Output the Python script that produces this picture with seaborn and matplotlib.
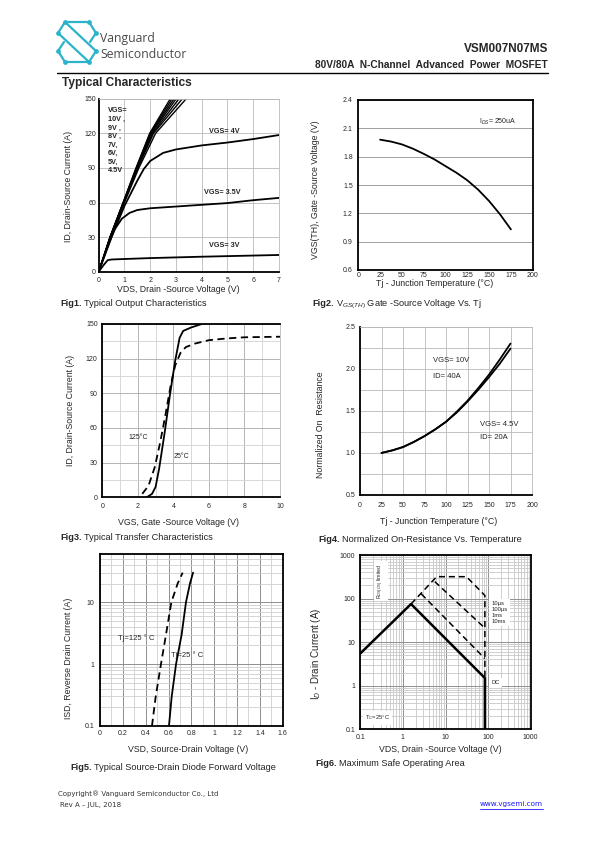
import matplotlib
matplotlib.use("Agg")
import matplotlib.pyplot as plt
import seaborn as sns

# Fig1 output characteristics: high-VGS bundle given as VDS at fixed ID
bundle_id = [0, 30, 60, 90, 120, 150]
vds_10v = [0, 0.44, 0.95, 1.45, 1.98, 2.78]
vds_9v = [0, 0.44, 0.95, 1.46, 2.00, 2.85]
vds_8v = [0, 0.44, 0.96, 1.47, 2.02, 2.93]
vds_7v = [0, 0.45, 0.96, 1.48, 2.05, 3.01]
vds_6v = [0, 0.45, 0.97, 1.50, 2.09, 3.12]
vds_5v = [0, 0.45, 0.98, 1.52, 2.13, 3.25]
vds_45v = [0, 0.46, 1.00, 1.56, 2.21, 3.40]
vds_4v = [0, 0.5, 1.0, 1.5, 1.75, 2.0, 2.5, 3.0, 4.0, 5.0, 6.0, 7.0]
id_4v = [0, 30, 57, 79, 89, 96, 103, 106, 109.5, 112, 115, 118.5]
vds_35v = [0, 0.3, 0.6, 0.9, 1.2, 1.5, 2.0, 3.0, 4.0, 5.0, 6.0, 7.0]
id_35v = [0, 19, 36, 46, 51, 53.5, 55, 56.5, 58, 59.5, 62, 64]
vds_3v = [0, 0.2, 0.35, 0.5, 1, 2, 3, 4, 5, 6, 7]
id_3v = [0, 6, 10, 10.6, 11, 11.8, 12.4, 13, 13.5, 14, 14.5]

# Fig2 threshold voltage vs Tj
tj2 = [25, 37.5, 50, 62.5, 75, 87.5, 100, 112.5, 125, 137.5, 150, 162.5, 175]
vth = [1.98, 1.96, 1.93, 1.885, 1.83, 1.77, 1.70, 1.63, 1.55, 1.45, 1.33, 1.19, 1.03]

# Fig3 transfer characteristics
vgs_25 = [2.5, 2.8, 3.0, 3.2, 3.5, 3.8, 4.1, 4.35, 4.55, 5.0, 5.6]
id_25 = [0, 3, 9, 25, 55, 88, 118, 138, 144, 147, 150]
vgs_125 = [2.25, 2.6, 2.95, 3.25, 3.55, 3.85, 4.1, 4.4, 4.7, 5.2, 6.0, 7.0, 8.0, 10.0]
id_125 = [3, 10, 26, 47, 71, 97, 114, 125, 130, 133, 136, 137.5, 138.5, 139]

# Fig4 normalized on-resistance
tj4 = [25, 37.5, 50, 62.5, 75, 87.5, 100, 112.5, 125, 137.5, 150, 162.5, 175]
rn_10v = [1.00, 1.03, 1.07, 1.13, 1.20, 1.28, 1.37, 1.49, 1.62, 1.77, 1.93, 2.11, 2.30]
rn_45v = [1.00, 1.03, 1.07, 1.13, 1.20, 1.28, 1.37, 1.48, 1.61, 1.75, 1.90, 2.06, 2.24]

# Fig5 body diode forward voltage
isd = [0.1, 0.3, 1, 3, 10, 20, 30]
vsd_125 = [0.455, 0.488, 0.534, 0.578, 0.625, 0.68, 0.724]
vsd_25 = [0.604, 0.628, 0.666, 0.715, 0.753, 0.788, 0.815]

# Fig6 safe operating area
dc_vds = [0.1, 1.55, 84, 84]
dc_id = [5.5, 75, 1.5, 0.1]
env_vds = [1.55, 6.2, 31, 84, 84]
env_id = [75, 318, 318, 118, 1.5]
us100_vds = [5.6, 84]
us100_id = [245, 21]
ms1_vds = [2.7, 84]
ms1_id = [128, 4.2]

# ---------------- style ----------------
sns.set_theme(style="white")
plt.rcParams['font.family'] = ['Liberation Sans', 'DejaVu Sans']
plt.rcParams['mathtext.fontset'] = 'custom'
plt.rcParams['mathtext.rm'] = 'Liberation Sans'
plt.rcParams['mathtext.it'] = 'Liberation Sans:italic'
NARROW = ['Liberation Sans Narrow', 'Liberation Sans', 'DejaVu Sans']
GRID = '#b9b9b9'
W, H = 595, 842

fig = plt.figure(figsize=(5.95, 8.42), dpi=100)


def ax_at(x0, y0, x1, y1):
    ax = fig.add_axes([x0 / W, 1 - y1 / H, (x1 - x0) / W, (y1 - y0) / H])
    ax.px = (x0, y0, x1, y1)
    return ax


def ftext(x, y, s, **kw):
    return fig.text(x / W, 1 - y / H, s, **kw)


def style(ax, xpad, ypad, black=('left', 'bottom', 'top', 'right')):
    for k, sp in ax.spines.items():
        if k in black:
            sp.set_color('black')
            sp.set_linewidth(1.3)
        else:
            sp.set_color(GRID)
            sp.set_linewidth(0.6)
        sp.set_zorder(5)
    ax.tick_params(which='both', length=0)
    ax.tick_params(axis='x', pad=xpad)
    ax.tick_params(axis='y', pad=ypad)
    ax.set_axisbelow(True)


def ticks(ax, xt, xl, yt, yl):
    ax.set_xticks(xt, xl, fontsize=5, fontfamily=NARROW)
    ax.set_yticks(yt, yl, fontsize=5, fontfamily=NARROW)


def labels(ax, xl, xc, yl, yc, fs=6.3, yfs=None):
    x0, y0, x1, y1 = ax.px
    ax.set_xlabel(xl, fontsize=fs)
    ax.xaxis.label.set_va('center')
    ax.xaxis.set_label_coords((xc[0] - x0) / (x1 - x0), (y1 - xc[1]) / (y1 - y0))
    ax.set_ylabel(yl, fontsize=yfs or fs)
    ax.yaxis.label.set_va('center')
    ax.yaxis.set_label_coords((yc[0] - x0) / (x1 - x0), (y1 - yc[1]) / (y1 - y0))


def caption(x, y, num, rest):
    t = ftext(x, y, num, fontsize=6.6, fontweight='bold', va='center')
    r = fig.canvas.get_renderer()
    bb = t.get_window_extent(renderer=r)
    ftext(x + bb.width + 2, y, rest, fontsize=6.6, va='center', color='#222222')


def line(ax, x, y, dashed=False, lw=1.3):
    kw = dict(linestyle=(0, (4, 2.5))) if dashed else {}
    sns.lineplot(x=x, y=y, ax=ax, color='black', lw=lw, sort=False,
                 estimator=None, legend=False, **kw)


WHITE = dict(facecolor='white', edgecolor='none', pad=1.5)

# ---------------- Fig1 ----------------
ax1 = ax_at(98.7, 98.7, 279, 271.7)
style(ax1, 3.7, 2, black=('left', 'bottom'))
for v in [vds_10v, vds_9v, vds_8v, vds_7v, vds_6v, vds_5v, vds_45v]:
    line(ax1, v, bundle_id, lw=1.0)
line(ax1, vds_4v, id_4v)
line(ax1, vds_35v, id_35v)
line(ax1, vds_3v, id_3v)
ax1.set_xlim(0, 7)
ax1.set_ylim(0, 150)
ticks(ax1, range(8), [str(i) for i in range(8)],
      range(0, 151, 30), [str(i) for i in range(0, 151, 30)])
ax1.grid(True, color=GRID, lw=0.6)
labels(ax1, 'VDS, Drain -Source Voltage (V)', (178, 289.5),
       'ID, Drain-Source Current (A)', (68.7, 186.5))
ax1.text(0.05, 0.95, 'VGS=\n10V ,\n9V ,\n8V ,\n7V,\n6V,\n5V,\n4.5V', transform=ax1.transAxes,
         fontsize=5.2, fontfamily=NARROW, fontweight='bold', va='top', linespacing=1.3)
ax1.text(4.3, 121.5, 'VGS= 4V', fontsize=5.2, fontfamily=NARROW, fontweight='bold', va='center')
ax1.text(4.1, 68.5, 'VGS= 3.5V', fontsize=5.2, fontfamily=NARROW, fontweight='bold', va='center')
ax1.text(4.3, 23, 'VGS= 3V', fontsize=5.2, fontfamily=NARROW, fontweight='bold', va='center')
caption(60, 303, 'Fig1.', 'Typical Output Characteristics')

# ---------------- Fig2 ----------------
ax2 = ax_at(358.3, 100, 532.7, 270)
style(ax2, 1.3, 4)
line(ax2, tj2, vth)
ax2.set_xlim(0, 200)
ax2.set_ylim(0.6, 2.4)
yt2 = [0.6, 0.9, 1.2, 1.5, 1.8, 2.1, 2.4]
ticks(ax2, range(0, 201, 25), [str(i) for i in range(0, 201, 25)],
      yt2, ['%.1f' % v for v in yt2])
ax2.yaxis.grid(True, color='#909090', lw=0.6)
labels(ax2, 'Tj - Junction Temperature (°C)', (435, 283),
       'VGS(TH), Gate -Source Voltage (V)', (315, 190))
ax2.text(0.69, 0.87, 'I$_{DS}$= 250uA', transform=ax2.transAxes, fontsize=5,
         fontfamily=NARROW, va='center')
caption(312, 304, 'Fig2.', 'V$_{GS(TH)}$ Gate -Source Voltage Vs. Tj')

# ---------------- Fig3 ----------------
ax3 = ax_at(102.3, 324, 280, 497.3)
style(ax3, 4, 3.3, black=('left', 'bottom', 'top'))
line(ax3, vgs_25, id_25)
line(ax3, vgs_125, id_125, dashed=True)
ax3.set_xlim(0, 10)
ax3.set_ylim(0, 150)
ticks(ax3, range(0, 11, 2), [str(i) for i in range(0, 11, 2)],
      range(0, 151, 30), [str(i) for i in range(0, 151, 30)])
ax3.set_xticks(range(11), minor=True)
ax3.set_yticks(range(0, 151, 15), minor=True)
ax3.grid(True, which='minor', color='#d2d2d2', lw=0.6)
ax3.grid(True, which='major', color='#a8a8a8', lw=0.6)
labels(ax3, 'VGS, Gate -Source Voltage (V)', (178, 522.3),
       'ID, Drain-Source Current (A)', (70.5, 410))
ax3.text(1.45, 52, '125°C', fontsize=5, fontfamily=NARROW, va='center')
ax3.text(4.0, 35, '25°C', fontsize=5, fontfamily=NARROW, va='center')
caption(60, 538, 'Fig3.', 'Typical Transfer Characteristics')

# ---------------- Fig4 ----------------
ax4 = ax_at(360, 326.7, 532, 495)
style(ax4, 4.9, 3.6, black=('left', 'bottom'))
line(ax4, tj4, rn_10v)
line(ax4, tj4, rn_45v)
ax4.set_xlim(0, 200)
ax4.set_ylim(0.5, 2.5)
yt4 = [0.5, 1.0, 1.5, 2.0, 2.5]
ticks(ax4, range(0, 201, 25), [str(i) for i in range(0, 201, 25)],
      yt4, ['%.1f' % v for v in yt4])
ax4.set_yticks([0.75, 1.25, 1.75, 2.25], minor=True)
ax4.grid(True, which='both', color=GRID, lw=0.6)
labels(ax4, 'Tj - Junction Temperature (°C)', (439, 521.7),
       'Normalized On  Resistance', (320.5, 425))
ax4.text(85, 2.1, 'VGS= 10V', fontsize=5.5, fontfamily=NARROW, va='center')
ax4.text(85, 1.91, 'ID= 40A', fontsize=5.5, fontfamily=NARROW, va='center')
ax4.text(139, 1.34, 'VGS= 4.5V', fontsize=5.5, fontfamily=NARROW, va='center')
ax4.text(139, 1.18, 'ID= 20A', fontsize=5.5, fontfamily=NARROW, va='center')
caption(318, 539, 'Fig4.', 'Normalized On-Resistance Vs. Temperature')

# ---------------- Fig5 ----------------
ax5 = ax_at(100, 554, 282.7, 726)
style(ax5, 3, 4)
ax5.set_yscale('log')
line(ax5, vsd_25, isd)
line(ax5, vsd_125, isd, dashed=True)
ax5.set_xlim(0, 1.6)
ax5.set_ylim(0.1, 60)
xt5 = [0, 0.2, 0.4, 0.6, 0.8, 1.0, 1.2, 1.4, 1.6]
ticks(ax5, xt5, ['0', '0.2', '0.4', '0.6', '0.8', '1', '1.2', '1.4', '1.6'],
      [0.1, 1, 10], ['0.1', '1', '10'])
ax5.set_xticks([i / 10 for i in range(17)], minor=True)
ax5.set_yticks([m * d for d in (0.1, 1, 10) for m in range(2, 10) if m * d <= 60], minor=True)
ax5.set_yticklabels([], minor=True)
ax5.tick_params(which='minor', length=0)
ax5.grid(True, which='minor', color='#cfcfcf', lw=0.6)
ax5.grid(True, which='major', color='#8f8f8f', lw=0.7)
labels(ax5, 'VSD, Source-Drain Voltage (V)', (188, 750),
       'ISD, Reverse Drain Current (A)', (68.3, 658))
ax5.text(0.16, 2.6, 'Tj=125 ° C', fontsize=5.5, fontfamily=NARROW, va='center')
ax5.text(0.62, 1.4, 'Tj=25 ° C', fontsize=5.5, fontfamily=NARROW, va='center')
caption(70, 767, 'Fig5.', 'Typical Source-Drain Diode Forward Voltage')

# ---------------- Fig6 ----------------
ax6 = ax_at(360.3, 555, 530.7, 729.3)
style(ax6, 3.7, 3.8)
ax6.set_xscale('log')
ax6.set_yscale('log')
line(ax6, env_vds, env_id, dashed=True, lw=1.1)
line(ax6, us100_vds, us100_id, dashed=True, lw=1.1)
line(ax6, ms1_vds, ms1_id, dashed=True, lw=1.1)
line(ax6, dc_vds, dc_id, lw=1.8)
ax6.set_xlim(0.1, 1000)
ax6.set_ylim(0.1, 1000)
dec = [0.1, 1, 10, 100, 1000]
ticks(ax6, dec, ['0.1', '1', '10', '100', '1000'], dec, ['0.1', '1', '10', '100', '1000'])
minors = [m * d for d in (0.1, 1, 10, 100) for m in range(2, 10)]
ax6.set_xticks(minors, minor=True)
ax6.set_yticks(minors, minor=True)
ax6.set_xticklabels([], minor=True)
ax6.set_yticklabels([], minor=True)
ax6.tick_params(which='minor', length=0)
ax6.grid(True, which='minor', color='#c8c8c8', lw=0.6)
ax6.grid(True, which='major', color='#8f8f8f', lw=0.7)
labels(ax6, 'VDS, Drain -Source Voltage (V)', (440, 749),
       'I$_D$ - Drain Current (A)', (316, 654), yfs=7)
ax6.text(0.12, 0.85, 'R$_{DS(ON)}$ limited', transform=ax6.transAxes, fontsize=3.8,
         rotation=90, ha='center', va='center', zorder=6, bbox=WHITE)
ax6.text(0.028, 0.065, 'T$_C$=25°C', transform=ax6.transAxes, fontsize=4.2,
         va='center', zorder=6, bbox=WHITE)
ax6.text(0.77, 0.67, '10µs\n100µs\n1ms\n10ms', transform=ax6.transAxes, fontsize=4.2,
         va='center', linespacing=1.25, zorder=6, bbox=WHITE)
ax6.text(0.77, 0.27, 'DC', transform=ax6.transAxes, fontsize=4.2, va='center', zorder=6,
         bbox=WHITE)
caption(315, 764, 'Fig6.', 'Maximum Safe Operating Area')

# ---------------- header / footer ----------------
lg = ax_at(55, 18, 100, 66)
lg.set_xlim(55, 100)
lg.set_ylim(66, 18)
lg.axis('off')
teal = '#2bb3c9'
A, B, C, D = (65, 22), (89, 22), (96, 33), (58, 33)
G, Hh, I, J = (65, 62), (89, 62), (96, 51), (58, 51)
segs = [(A, B), (A, D), (B, C), (C, (90, 42)), (D, Hh), (A, I),
        (G, Hh), (G, J), (J, (64, 42)), (I, Hh)]
for (a, b) in segs:
    lg.plot([a[0], b[0]], [a[1], b[1]], color=teal, lw=1.6, solid_capstyle='round')
for p in [A, B, C, D, G, Hh, I, J]:
    lg.plot(p[0], p[1], 'o', color=teal, ms=2.4)
ftext(100, 38.5, 'Vanguard', fontsize=8.8, color='#4a4a4a', va='center',
      fontfamily=['Open Sans', 'DejaVu Sans'])
ftext(100, 54, 'Semiconductor', fontsize=8.8, color='#4a4a4a', va='center',
      fontfamily=['Open Sans', 'DejaVu Sans'])
ftext(548, 49, 'VSM007N07MS', fontsize=8.5, fontweight='bold', ha='right', va='center')
ftext(548, 65.5, '80V/80A  N-Channel  Advanced  Power  MOSFET', fontsize=7.3,
      fontweight='bold', ha='right', va='center')
fig.add_artist(plt.Line2D([57 / W, 548 / W], [1 - 72.5 / H, 1 - 72.5 / H], color='black', lw=1.0))
ftext(62, 83, 'Typical Characteristics', fontsize=8.6, fontweight='bold', va='center')

ftext(58, 794, 'Copyright® Vanguard Semiconductor Co., Ltd', fontsize=5,
      fontfamily=['DejaVu Sans'], va='center', color='#333333')
ftext(60, 805, 'Rev A – JUL, 2018', fontsize=5, fontfamily=['DejaVu Sans'], va='center',
      color='#333333')
u = ftext(543, 804, 'www.vgsemi.com', fontsize=5.2, fontfamily=['DejaVu Sans'], va='center',
          ha='right', color='#1a1aff')
bb = u.get_window_extent(renderer=fig.canvas.get_renderer())
fig.add_artist(plt.Line2D([bb.x0 / W, bb.x1 / W], [1 - 808.5 / H, 1 - 808.5 / H],
                          color='#1a1aff', lw=0.6))

fig.savefig('out.png', dpi=100)
